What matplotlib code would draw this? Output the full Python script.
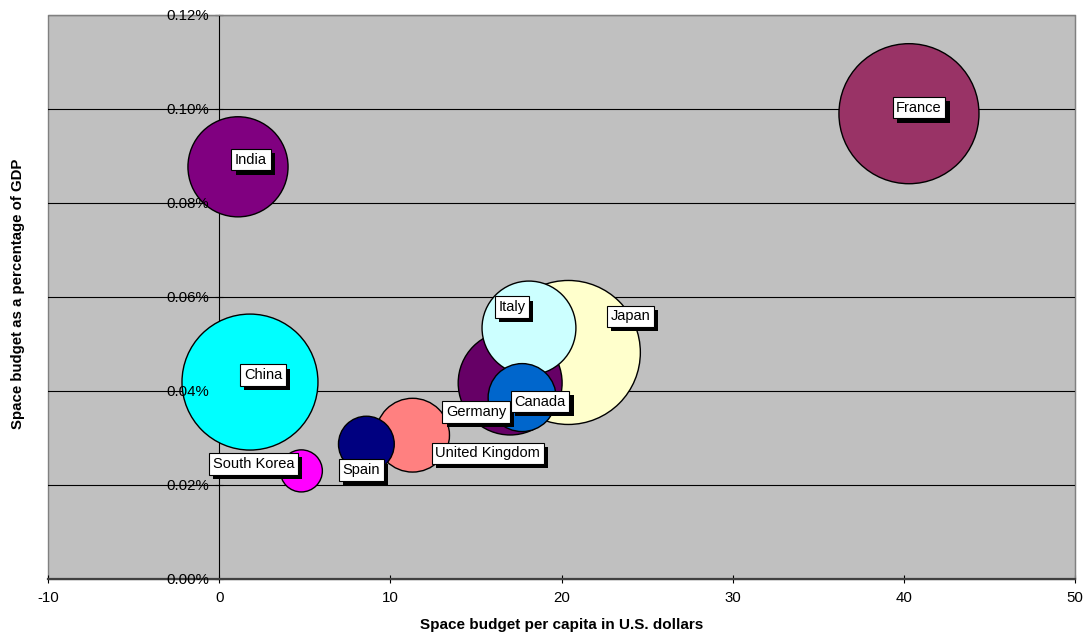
import matplotlib.pyplot as plt
import matplotlib.patheffects as pe
import numpy as np

plt.rcParams['font.family'] = ['Liberation Sans', 'DejaVu Sans']
plt.rcParams['axes.unicode_minus'] = False

# listed in drawing order (later bubbles sit on top)
countries = ['South Korea', 'Japan', 'France', 'China', 'Germany',
             'India', 'Italy', 'United Kingdom', 'Canada', 'Spain']
per_capita = [4.8, 20.4, 40.3, 1.8, 17.0, 1.1, 18.1, 11.3, 17.7, 8.6]      # USD
pct_gdp = [0.0230, 0.0482, 0.0990, 0.0419, 0.0417,
           0.0877, 0.0534, 0.0306, 0.0386, 0.0287]                         # % of GDP
total_budget = [205, 2400, 2270, 2140, 1250, 1160, 1020, 630, 535, 360]     # USD millions

colors = {
    'South Korea': '#FF00FF', 'Japan': '#FFFFCC', 'France': '#993366',
    'China': '#00FFFF', 'Germany': '#660066', 'India': '#800080',
    'Italy': '#CCFFFF', 'United Kingdom': '#FF8080', 'Canada': '#0066CC',
    'Spain': '#000080',
}
# label box offsets from the bubble centre, in pixels (right, up)
label_offsets = {
    'South Korea': (-48, 7), 'Japan': (62, 36), 'France': (10, 6),
    'China': (13, 7), 'Germany': (-34, -29), 'India': (13, 7),
    'Italy': (-17, 21), 'United Kingdom': (75, -18), 'Canada': (18, -4),
    'Spain': (-5, -26),
}

yticks = np.arange(0, 0.121, 0.02)

dpi = 100
fig = plt.figure(figsize=(10.84, 6.37), dpi=dpi)
ax = fig.add_axes([48 / 1084, 58 / 637, 1027 / 1084, 564 / 637])
ax.set_facecolor('#C0C0C0')
ax.patch.set_edgecolor('#808080')
ax.patch.set_linewidth(1.0)

# horizontal gridlines and y tick marks stay behind the bubbles
for v in yticks[1:]:
    ax.axhline(v, color='black', linewidth=0.8, zorder=1)
ax.plot(np.zeros(len(yticks)), yticks, linestyle='none', marker='_',
        markersize=6, markeredgewidth=0.8, color='black', zorder=1, clip_on=False)

pt_per_px = 72 / dpi
budget = np.array(total_budget, dtype=float)
radius_px = 72 * np.sqrt(budget / budget.max())
sizes = (2 * radius_px * pt_per_px) ** 2

ax.scatter(per_capita, pct_gdp, s=sizes,
           c=[colors[c] for c in countries],
           edgecolors='black', linewidths=1.0, zorder=3, clip_on=False)

for name, x, y in zip(countries, per_capita, pct_gdp):
    dx, dy = label_offsets[name]
    t = ax.annotate(name, (x, y), xytext=(dx * pt_per_px, dy * pt_per_px),
                    textcoords='offset points', ha='center', va='center',
                    fontsize=10.5, color='black', zorder=5,
                    bbox=dict(boxstyle='square,pad=0.25', fc='white',
                              ec='black', lw=0.8))
    t.get_bbox_patch().set_path_effects([
        pe.SimplePatchShadow(offset=(3, -3), shadow_rgbFace='black', alpha=1.0),
        pe.Normal()])

ax.set_xlim(-10, 50)
ax.set_ylim(0, 0.12)
ax.set_xticks(np.arange(-10, 51, 10))
ax.set_yticks(yticks)
ax.yaxis.set_major_formatter(plt.FuncFormatter(lambda v, p: f'{v:.2f}%'))

ax.spines['left'].set_position(('data', 0))
ax.spines['left'].set_color('black')
ax.spines['left'].set_linewidth(0.8)
ax.spines['left'].set_zorder(1)
ax.spines['bottom'].set_color('#404040')
ax.spines['bottom'].set_linewidth(1.6)
ax.spines['top'].set_color('#808080')
ax.spines['right'].set_color('#808080')

ax.tick_params(axis='x', direction='inout', length=6, width=0.8,
               labelsize=10.8, colors='black', pad=6)
ax.tick_params(axis='y', length=0, labelsize=10.8, colors='black', pad=7)
# y tick labels print over the bubbles
ax.yaxis.set_zorder(4)

ax.set_xlabel('Space budget per capita in U.S. dollars', fontsize=11,
              fontweight='bold', labelpad=9)
ax.text(-0.0295, 0.505, 'Space budget as a percentage of GDP', transform=ax.transAxes,
        rotation=90, ha='center', va='center', fontsize=10.8, fontweight='bold')

fig.savefig('out.png', dpi=dpi)
